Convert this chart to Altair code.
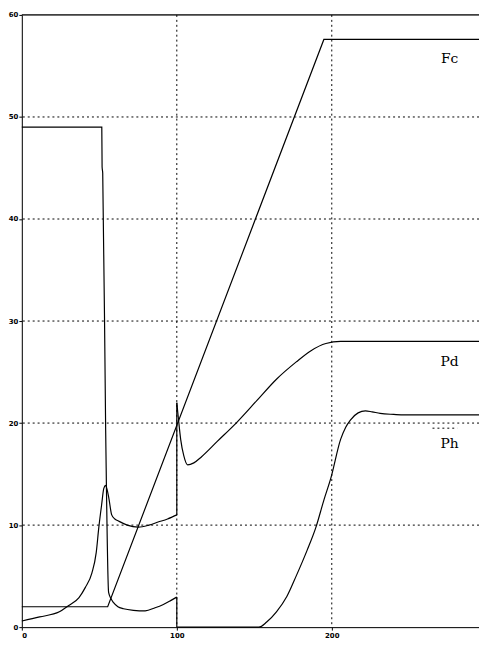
import altair as alt
import pandas as pd

# ---- data ----
fc_x = [0, 55.4, 194.9, 295]
fc_y = [2.0, 2.0, 57.6, 57.6]

# Pd before and after the jump at t = 100
pd1_x = [0, 11.5, 24.2, 30, 36.9, 41, 45.2, 48, 49.7, 51.5, 52.9, 54.1, 55, 56.1, 58, 60, 62.4, 68,
         75.2, 82, 87.9, 94, 100]
pd1_y = [0.6, 1.0, 1.5, 2.1, 2.9, 3.9, 5.3, 7.3, 9.8, 12.0, 13.6, 13.9, 13.5, 12.7, 11.0, 10.6, 10.4,
         10.0, 9.8, 10.0, 10.3, 10.6, 11.0]
pd2_x = [100, 101, 102.5, 104.5, 107, 111, 116, 126.1, 138.9, 151.6, 164.3, 177.1, 186.6, 196.2,
         205.7, 295]
pd2_y = [22.0, 20.5, 18.4, 16.8, 15.9, 16.1, 16.7, 18.2, 20.1, 22.2, 24.3, 26.0, 27.1, 27.8, 28.0, 28.0]

# Ph before and after the drop at t = 100
ph1_x = [0, 51.6, 51.8, 52.2, 54.1, 56, 57.5, 59.2, 62, 65.6, 72, 79.6, 86, 91, 96, 100]
ph1_y = [49.0, 49.0, 45.1, 44.5, 19.3, 3.4, 2.8, 2.4, 2.0, 1.8, 1.65, 1.6, 1.9, 2.2, 2.6, 2.95]
ph2_x = [100, 152.9, 158, 164.3, 171, 177, 184, 189.8, 195, 199.4, 205.7, 209, 212, 217, 221.7, 226,
         231.2, 240, 247, 295]
ph2_y = [0.0, 0.0, 0.5, 1.5, 3.0, 5.0, 7.5, 9.8, 12.5, 14.6, 18.4, 19.6, 20.3, 21.0, 21.2, 21.1,
         20.95, 20.85, 20.8, 20.8]

label_text = ["Fc", "Pd", "Ph"]
label_x = [276, 276, 276]
label_y = [55.7, 26.0, 17.9]

x_ticks = [0, 100, 200, 300]
y_ticks = [0, 10, 20, 30, 40, 50, 60]
x_grid = [100, 200]
y_grid = [10, 20, 30, 40, 50]


def table(parts):
    rows = []
    for name, xs_, ys_ in parts:
        for i, (a, b) in enumerate(zip(xs_, ys_)):
            rows.append({"seg": name, "i": i, "t": a, "v": b})
    return pd.DataFrame(rows)


smooth_df = table([("Pd1", pd1_x, pd1_y), ("Pd2", pd2_x, pd2_y),
                   ("Ph1", ph1_x, ph1_y), ("Ph2", ph2_x, ph2_y)])
straight_df = table([("Fc", fc_x, fc_y),
                     ("Pdjump", [pd1_x[-1], pd2_x[0]], [pd1_y[-1], pd2_y[0]]),
                     ("Phjump", [ph1_x[-1], ph2_x[0]], [ph1_y[-1], ph2_y[0]])])
labels = pd.DataFrame({"text": label_text, "t": label_x, "v": label_y})
xg = pd.DataFrame({"t": x_grid})
yg = pd.DataFrame({"v": y_grid})

xs = alt.Scale(domain=[0, 295], nice=False, zero=False)
ys = alt.Scale(domain=[0, 60], nice=False)

axis_style = dict(grid=False, tickSize=3, labelFontSize=7, labelFontWeight="bold", labelPadding=1,
                  domainColor="black", tickColor="black", labelColor="black",
                  labelFont="DejaVu Sans")

grid_style = dict(color="black", strokeDash=[2, 3], strokeWidth=1)

vgrid = alt.Chart(xg).mark_rule(**grid_style).encode(
    x=alt.X("t:Q", scale=xs, title=None, axis=alt.Axis(values=x_ticks, **axis_style)))
hgrid = alt.Chart(yg).mark_rule(**grid_style).encode(
    y=alt.Y("v:Q", scale=ys, title=None, axis=alt.Axis(values=y_ticks, **axis_style)))
stub = alt.Chart(pd.DataFrame({"t": [265], "t2": [281], "v": [19.5]})).mark_rule(
    **grid_style).encode(x=alt.X("t:Q", scale=xs), x2="t2:Q", y=alt.Y("v:Q", scale=ys))
top = alt.Chart(pd.DataFrame({"v": [60]})).mark_rule(color="black", strokeWidth=1.2).encode(
    y=alt.Y("v:Q", scale=ys))

smooth = alt.Chart(smooth_df).mark_line(color="black", strokeWidth=1.2,
                                        interpolate="monotone").encode(
    x=alt.X("t:Q", scale=xs), y=alt.Y("v:Q", scale=ys), detail="seg:N", order="i:Q")
straight = alt.Chart(straight_df).mark_line(color="black", strokeWidth=1.2).encode(
    x=alt.X("t:Q", scale=xs), y=alt.Y("v:Q", scale=ys), detail="seg:N", order="i:Q")

texts = alt.Chart(labels).mark_text(font="DejaVu Serif", fontSize=14, color="black",
                                    align="center", baseline="middle").encode(
    x=alt.X("t:Q", scale=xs), y=alt.Y("v:Q", scale=ys), text="text:N")

chart = alt.layer(vgrid, hgrid, stub, top, smooth, straight, texts).properties(
    width=463, height=620,
    autosize=alt.AutoSizeParams(type="none"),
    padding={"left": 14, "top": 3, "right": 0, "bottom": 10},
).configure_view(stroke=None).configure(background="white")

chart.save("out.html", embed_options={"renderer": "svg", "actions": False})
